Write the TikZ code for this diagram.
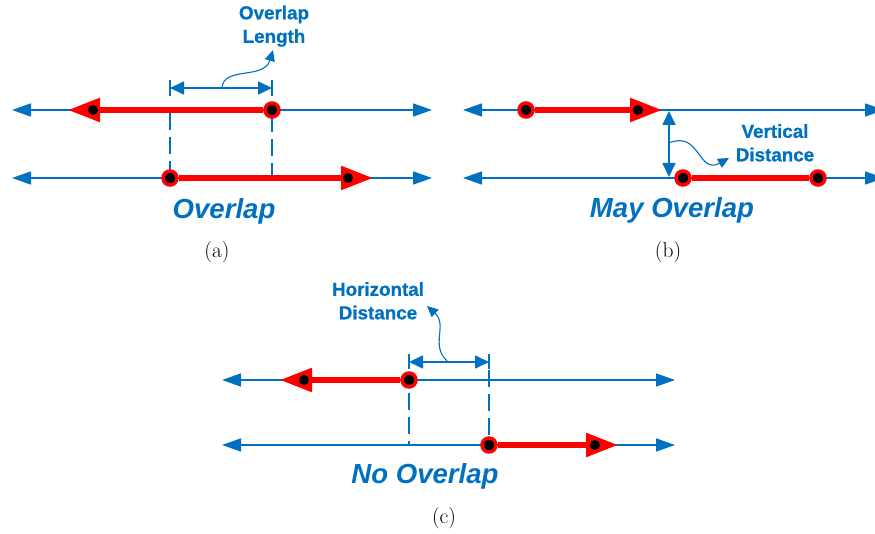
\documentclass[tikz,border=0pt]{standalone}
\usepackage{fontspec}
\newfontfamily\lblfont[BoldFeatures={FakeBold=0.8}]{Liberation Sans}
\usetikzlibrary{arrows.meta}
\definecolor{mblue}{HTML}{0070C0}
\definecolor{mred}{HTML}{FF0000}
\tikzset{
  btip/.tip={Triangle[length=19pt,width=13pt]},
  dtip/.tip={Triangle[length=14pt,width=13pt]},
  ltip/.tip={Triangle[length=11pt,width=10pt]},
  rtip/.tip={Triangle[length=32pt,width=23pt]},
  bline/.style={draw=mblue, line width=1.7pt},
  leader/.style={draw=mblue, line width=1.1pt},
  rline/.style={draw=mred, line width=5.5pt},
  endpt/.style={circle, fill=black, draw=mred, line width=3.5pt, minimum size=14pt, inner sep=0pt},
  bdot/.style={circle, fill=black, minimum size=10pt, inner sep=0pt},
  dashv/.style={draw=mblue, line width=1.6pt, dash pattern=on 17pt off 7pt},
  lbl/.style={text=mblue, font=\lblfont\bfseries\fontsize{18.8}{23.5}\selectfont, align=center, anchor=north, inner sep=0pt},
  big/.style={text=mblue, font=\lblfont\bfseries\itshape\fontsize{27.6}{30}\selectfont, anchor=base, inner sep=0pt},
  capt/.style={font=\fontsize{21.5}{24}\selectfont, anchor=base, inner sep=0pt},
}
\begin{document}
\begin{tikzpicture}[x=1pt,y=-1pt]
\useasboundingbox (0,0) rectangle (875,534);

% ---------------- (a) ----------------
\coordinate (aTL) at (12,110);  \coordinate (aTR) at (432,110);
\coordinate (aBL) at (12,178);  \coordinate (aBR) at (432,178);
\draw[bline, {btip}-{btip}] (aTL) -- (aTR);
\draw[bline, {btip}-{btip}] (aBL) -- (aBR);
% dimension
\coordinate (aT1a) at (170,80); \coordinate (aT1b) at (170,96);
\coordinate (aT2a) at (272,80); \coordinate (aT2b) at (272,96);
\draw[bline] (aT1a) -- (aT1b);
\draw[bline] (aT2a) -- (aT2b);
\coordinate (aD1) at (170,88); \coordinate (aD2) at (272,88);
\draw[bline, {dtip}-{dtip}] (aD1) -- (aD2);
\coordinate (aV1a) at (170,113); \coordinate (aV1b) at (170,178);
\coordinate (aV2a) at (272,115); \coordinate (aV2b) at (272,178);
\draw[dashv] (aV1a) -- (aV1b);
\draw[dashv] (aV2a) -- (aV2b);
% leader
\coordinate (aL0) at (222,88); \coordinate (aL1) at (273,50);
\draw[leader, -{ltip}] (aL0) .. controls (223,66) and (264,80) .. (aL1);
\node[lbl] (aLab) at (274,5.5) {Overlap\\Length};
% red segments
\node[endpt] (a1) at (272,110) {};
\coordinate (a1tip) at (68,110);
\draw[rline, -{rtip}] (a1) -- (a1tip);
\node[bdot] (a1d) at (93,110) {};
\node[endpt] (a2) at (170,178) {};
\coordinate (a2tip) at (373,178);
\draw[rline, -{rtip}] (a2) -- (a2tip);
\node[bdot] (a2d) at (348,178) {};
\node[big] (aTxt) at (224,219) {Overlap};
\node[capt] (aCap) at (217,258) {(a)};

% ---------------- (b) ----------------
\coordinate (bTL) at (463,110);  \coordinate (bTR) at (884,110);
\coordinate (bBL) at (463,178);  \coordinate (bBR) at (884,178);
\draw[bline, {btip}-{btip}] (bTL) -- (bTR);
\draw[bline, {btip}-{btip}] (bBL) -- (bBR);
\coordinate (bV1) at (669,111); \coordinate (bV2) at (669,177);
\draw[bline, {dtip}-{dtip}] (bV1) -- (bV2);
\coordinate (bL0) at (669,143); \coordinate (bL1) at (729,158);
\draw[leader, -{ltip}] (bL0) .. controls (700,130) and (698,175) .. (bL1);
\node[lbl] (bLab) at (775,124) {Vertical\\Distance};
\node[endpt] (b1) at (526,110) {};
\coordinate (b1tip) at (662,110);
\draw[rline, -{rtip}] (b1) -- (b1tip);
\node[bdot] (b1d) at (638,110) {};
\node[endpt] (b3) at (683,178) {};
\node[endpt] (b4) at (818,178) {};
\draw[rline] (b3) -- (b4);
\node[big] (bTxt) at (672,218) {May Overlap};
\node[capt] (bCap) at (668,258) {(b)};

% ---------------- (c) ----------------
\coordinate (cTL) at (222,380);  \coordinate (cTR) at (675,380);
\coordinate (cBL) at (222,445);  \coordinate (cBR) at (675,445);
\draw[bline, {btip}-{btip}] (cTL) -- (cTR);
\draw[bline, {btip}-{btip}] (cBL) -- (cBR);
\coordinate (cT1a) at (409,354); \coordinate (cT1b) at (409,369);
\coordinate (cT2a) at (489,354); \coordinate (cT2b) at (489,369);
\draw[bline] (cT1a) -- (cT1b);
\draw[bline] (cT2a) -- (cT2b);
\coordinate (cD1) at (409,362); \coordinate (cD2) at (489,362);
\draw[bline, {dtip}-{dtip}] (cD1) -- (cD2);
\coordinate (cV1a) at (409,393); \coordinate (cV1b) at (409,445);
\coordinate (cV2a) at (489,370); \coordinate (cV2b) at (489,437);
\draw[dashv] (cV1a) -- (cV1b);
\draw[dashv] (cV2a) -- (cV2b);
\coordinate (cL0) at (447,361); \coordinate (cL1) at (427,306);
\draw[leader, -{ltip}] (cL0) .. controls (430,345) and (448,325) .. (cL1);
\node[lbl] (cLab) at (378,282) {Horizontal\\Distance};
\node[endpt] (c1) at (409,380) {};
\coordinate (c1tip) at (280,380);
\draw[rline, -{rtip}] (c1) -- (c1tip);
\node[bdot] (c1d) at (304,380) {};
\node[endpt] (c2) at (489,445) {};
\coordinate (c2tip) at (618,445);
\draw[rline, -{rtip}] (c2) -- (c2tip);
\node[bdot] (c2d) at (595,445) {};
\node[big] (cTxt) at (425,483) {No Overlap};
\node[capt] (cCap) at (444,523) {(c)};
\end{tikzpicture}
\end{document}
